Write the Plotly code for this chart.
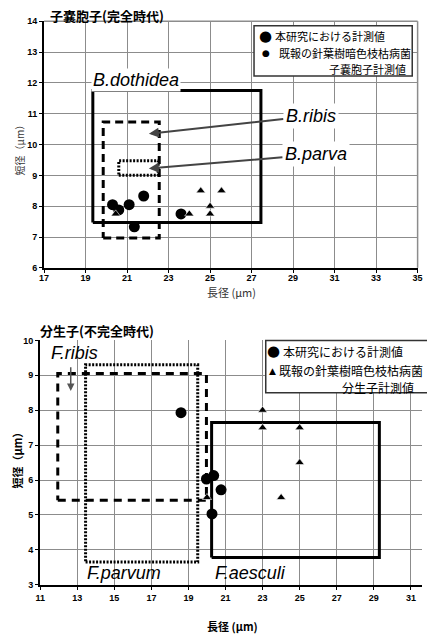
import plotly.graph_objects as go

# ---------------- data ----------------
# Top chart: ascospores
asco_study_x = [20.3, 20.6, 21.1, 21.35, 21.8, 23.6]
asco_study_y = [8.05, 7.88, 8.05, 7.33, 8.33, 7.75]
asco_lit_x = [20.45, 24.0, 24.55, 25.0, 25.0, 25.55]
asco_lit_y = [7.75, 7.75, 8.5, 8.0, 7.75, 8.5]

dothidea_box = [19.35, 27.45, 7.47, 11.75]   # x0, x1, y0, y1
ribis_box = [19.85, 22.55, 6.97, 10.73]
parva_box = [20.6, 22.5, 9.0, 9.47]

# Bottom chart: conidia
con_study_x = [18.6, 19.97, 20.36, 20.76, 20.27]
con_study_y = [7.93, 6.03, 6.13, 5.72, 5.03]
con_lit_x = [23.0, 23.0, 25.0, 25.0, 24.0, 20.0]
con_lit_y = [8.0, 7.5, 7.5, 6.5, 5.5, 5.5]

fribis_box = [11.95, 19.97, 5.42, 9.05]
fparvum_box = [13.45, 19.5, 3.65, 9.3]
faesculi_box = [20.25, 29.3, 3.78, 7.65]

top_xticks = list(range(17, 36, 2))
top_yticks = list(range(6, 15))
bot_xticks = list(range(11, 32, 2))
bot_yticks = list(range(3, 11))

W, H = 427, 641
def px(x):
    return x / W
def py(y):
    return 1 - y / H

def box_xy(b):
    x0, x1, y0, y1 = b
    return [x0, x1, x1, x0, x0], [y0, y0, y1, y1, y0]

def bold_labels(vals):
    return ["<b>%d</b>" % v for v in vals]

fig = go.Figure()

def add_box(b, dash, xa, ya):
    bx, by = box_xy(b)
    fig.add_trace(go.Scatter(x=bx, y=by, mode="lines", xaxis=xa, yaxis=ya,
                             line=dict(color="black", width=3, dash=dash),
                             showlegend=False, hoverinfo="skip"))

add_box(dothidea_box, "solid", "x", "y")
add_box(ribis_box, "8px,5px", "x", "y")
add_box(parva_box, "2px,1.5px", "x", "y")
add_box(fribis_box, "8px,6px", "x2", "y2")
add_box(fparvum_box, "2px,1.5px", "x2", "y2")
add_box(faesculi_box, "solid", "x2", "y2")

fig.add_trace(go.Scatter(x=asco_study_x, y=asco_study_y, mode="markers", xaxis="x", yaxis="y",
                         marker=dict(symbol="circle", size=11, color="black"), showlegend=False))
fig.add_trace(go.Scatter(x=asco_lit_x, y=asco_lit_y, mode="markers", xaxis="x", yaxis="y",
                         marker=dict(symbol="triangle-up", size=8, color="black",
                                     line=dict(color="white", width=0.6)), showlegend=False))
fig.add_trace(go.Scatter(x=con_study_x, y=con_study_y, mode="markers", xaxis="x2", yaxis="y2",
                         marker=dict(symbol="circle", size=11, color="black"), showlegend=False))
fig.add_trace(go.Scatter(x=con_lit_x, y=con_lit_y, mode="markers", xaxis="x2", yaxis="y2",
                         marker=dict(symbol="triangle-up", size=8, color="black",
                                     line=dict(color="white", width=0.6)), showlegend=False))

tickfont = dict(family="Liberation Sans Narrow, Liberation Sans, Arial", size=9, color="black")
axis_common = dict(showgrid=True, gridcolor="#8c8c8c", gridwidth=1, zeroline=False,
                   ticks="outside", ticklen=3, tickcolor="black", tickfont=tickfont,
                   showline=True, linecolor="black", linewidth=2, mirror=False,
                   ticklabeloverflow="allow")

fig.update_layout(
    width=W, height=H,
    margin=dict(l=0, r=0, t=0, b=0),
    paper_bgcolor="white", plot_bgcolor="white",
    showlegend=False,
    xaxis=dict(domain=[px(40), px(422.5)], range=[17, 35], tickvals=top_xticks,
               ticktext=bold_labels(top_xticks), anchor="y", ticklabelstandoff=-3, **axis_common),
    yaxis=dict(domain=[py(267), py(16.5)], range=[6, 14], tickvals=top_yticks,
               ticktext=bold_labels(top_yticks), anchor="x", **axis_common),
    xaxis2=dict(domain=[px(36), 1.0], range=[11, 31.6], tickvals=bot_xticks,
                ticktext=bold_labels(bot_xticks), anchor="y2", **axis_common),
    yaxis2=dict(domain=[py(589), py(340.7)], range=[3, 10], tickvals=bot_yticks,
                ticktext=bold_labels(bot_yticks), anchor="x2", **axis_common),
)

# top border and right border of top chart as gray lines
fig.add_shape(type="line", xref="paper", yref="paper", x0=px(40), x1=px(422.5), y0=py(16.5), y1=py(16.5),
              line=dict(color="#8c8c8c", width=1.5))
fig.add_shape(type="line", xref="paper", yref="paper", x0=px(422.5), x1=px(422.5), y0=py(16.5), y1=py(267),
              line=dict(color="#8c8c8c", width=1.5))

jp = "Noto Sans CJK JP"
italic = "Liberation Sans, Arial"
ann = []

def paper_text(text, x, y, size, xanchor="center", color="black", family=jp, angle=0):
    ann.append(dict(text=text, x=px(x), y=py(y), xref="paper", yref="paper",
                    xanchor=xanchor, yanchor="middle", showarrow=False, textangle=angle,
                    font=dict(family=family, size=size, color=color)))

# titles
paper_text("<b>子嚢胞子(完全時代)</b>", 44, 11, 13, xanchor="left")
paper_text("<b>分生子(不完全時代)</b>", 34, 331, 13, xanchor="left")

# axis titles
paper_text("長径 (μm)", 232, 292, 11, color="#333333")
paper_text("短径（μm）", 15, 145, 10, color="#333333", angle=-90)
paper_text("<b>長径 (μm)</b>", 233, 631, 11)
paper_text("<b>短径（μm）</b>", 12, 460, 11, angle=-90)

# species labels, top
lab_font = dict(family=italic, size=18, color="black")
ann.append(dict(text="<i>B.dothidea</i>", x=21.45, y=12.08, xref="x", yref="y", showarrow=False,
                bgcolor="white", borderpad=1, font=lab_font))
ann.append(dict(text="<i>B.ribis</i>", x=22.05, y=10.35, ax=29.85, ay=10.93, axref="x", ayref="y",
                xref="x", yref="y", showarrow=True, arrowhead=2, arrowsize=1, arrowwidth=2,
                arrowcolor="#444444", bgcolor="white", borderpad=2, font=lab_font))
ann.append(dict(text="<i>B.parva</i>", x=22.05, y=9.22, ax=30.1, ay=9.68, axref="x", ayref="y",
                xref="x", yref="y", showarrow=True, arrowhead=2, arrowsize=1, arrowwidth=2,
                arrowcolor="#444444", bgcolor="white", borderpad=2, font=lab_font))

# species labels, bottom
ann.append(dict(text="<i>F.ribis</i>", x=12.85, y=9.65, xref="x2", yref="y2", showarrow=False, font=lab_font))
ann.append(dict(text="", x=12.65, y=8.55, ax=12.65, ay=9.27, axref="x2", ayref="y2", xref="x2", yref="y2",
                showarrow=True, arrowhead=2, arrowsize=1, arrowwidth=1.5, arrowcolor="#555555"))
ann.append(dict(text="<i>F.parvum</i>", x=15.5, y=3.34, xref="x2", yref="y2", showarrow=False, font=lab_font))
ann.append(dict(text="<i>F.aesculi</i>", x=22.35, y=3.34, xref="x2", yref="y2", showarrow=False, font=lab_font))

# legend top
fig.add_shape(type="rect", xref="paper", yref="paper", x0=px(255), x1=px(417), y0=py(72), y1=py(21),
              line=dict(color="#333333", width=1.5), fillcolor="white", layer="above")
paper_text("●", 266.5, 31.5, 15, family="DejaVu Sans")
paper_text("●", 267.5, 49, 9, family="DejaVu Sans")
paper_text("本研究における計測値", 274, 31.5, 11, xanchor="left")
paper_text("既報の針葉樹暗色枝枯病菌", 279, 49, 11, xanchor="left")
paper_text("子嚢胞子計測値", 413, 65, 11, xanchor="right")

# legend bottom
fig.add_shape(type="rect", xref="paper", yref="paper", x0=px(267), x1=px(440), y0=py(394), y1=py(340.7),
              line=dict(color="#333333", width=1.5), fillcolor="white", layer="above")
paper_text("●", 274.5, 351.5, 15, family="DejaVu Sans")
paper_text("▲", 273.5, 371.5, 9, family="DejaVu Sans")
paper_text("本研究における計測値", 283, 351.5, 12, xanchor="left")
paper_text("既報の針葉樹暗色枝枯病菌", 279, 371.5, 12, xanchor="left")
paper_text("分生子計測値", 421, 389, 12, xanchor="right")

fig.update_layout(annotations=ann)
fig.write_html("out.html", config={"displayModeBar": False},
               post_script="document.body.style.margin='0';document.body.style.overflow='hidden';")
